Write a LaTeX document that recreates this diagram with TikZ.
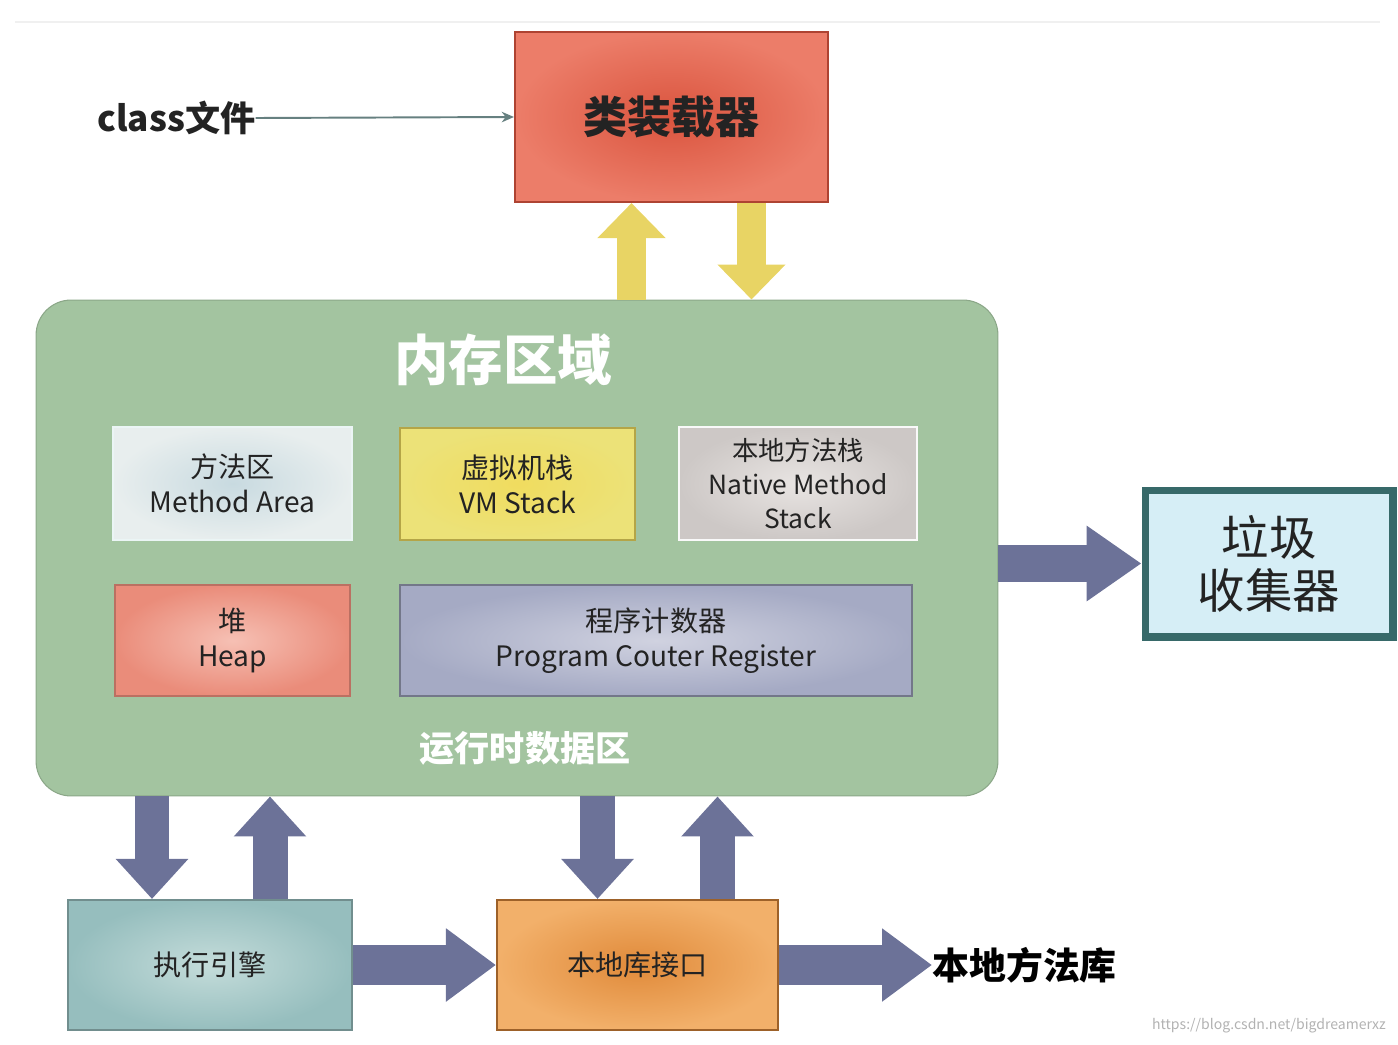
\documentclass[tikz,border=0pt]{standalone}
\usepackage{fontspec}
\setmainfont{Noto Sans CJK SC}
\usetikzlibrary{arrows.meta, positioning, calc}
\definecolor{txtdark}{RGB}{35,35,35}
\definecolor{memgreen}{RGB}{163,196,160}
\definecolor{slate}{RGB}{108,114,152}
\definecolor{yellowarr}{RGB}{232,212,100}
\definecolor{yellowedge}{RGB}{170,150,80}
\definecolor{loadin}{RGB}{218,84,62}
\definecolor{loadout}{RGB}{236,125,105}
\definecolor{methin}{RGB}{200,218,224}
\definecolor{methout}{RGB}{232,238,238}
\definecolor{vmin}{RGB}{240,220,95}
\definecolor{vmout}{RGB}{236,226,120}
\definecolor{natin}{RGB}{232,228,226}
\definecolor{natout}{RGB}{205,200,198}
\definecolor{heapin}{RGB}{246,192,180}
\definecolor{heapout}{RGB}{234,140,122}
\definecolor{pcin}{RGB}{208,210,224}
\definecolor{pcout}{RGB}{165,170,196}
\definecolor{engin}{RGB}{196,220,218}
\definecolor{engout}{RGB}{150,190,190}
\definecolor{ifin}{RGB}{224,138,58}
\definecolor{ifout}{RGB}{242,176,106}
\definecolor{gcfill}{RGB}{214,238,246}
\definecolor{gcedge}{RGB}{55,105,105}
\tikzstyle{abox}=[rectangle, draw, line width=1.2pt, text=txtdark,
  align=center, font=\fontsize{16}{20}\selectfont]
\tikzstyle{barr}=[-{Triangle[length=0.8cm, width=1.4cm]}, line width=0.7cm,
  color=slate]
\tikzstyle{harr}=[-{Triangle[length=1.0cm, width=1.4cm]}, line width=0.8cm,
  color=slate]
\tikzstyle{yarr}=[-{Triangle[length=0.7cm, width=1.32cm]}, line width=0.58cm,
  color=yellowarr]

\begin{document}
\begin{tikzpicture}[x=0.02cm, y=-0.02cm]
  \useasboundingbox (0,0) rectangle (1398,1044);
  \draw[black!6, line width=1pt] (15,22) -- (1380,22);

  % class loader
  \node[font=\fontsize{20}{24}\selectfont\bfseries, anchor=west, inner sep=0pt,
    text=txtdark] (cls) at (97,118) {class文件};
  \node[abox, minimum width=6.26cm, minimum height=3.4cm,
    inner color=loadin, outer color=loadout, draw=loadin!80!black,
    font=\fontsize{25}{30}\selectfont\bfseries]
    (loader) at (671.5,117) {类装载器};
  \draw[-{Stealth[length=7pt, width=6pt]}, line width=1.1pt, color=gray!80!teal]
    (cls.east) -- (loader.west);

  % memory area
  \node[rectangle, rounded corners=0.7cm, fill=memgreen, draw=memgreen!85!black,
    line width=0.6pt, minimum width=19.24cm, minimum height=9.92cm]
    (mem) at (517,548) {};
  \node[font=\fontsize{31}{36}\selectfont\bfseries, text=white]
    (memt) at (503,360) {内存区域};
  \node[font=\fontsize{20}{24}\selectfont\bfseries, text=white]
    (rt) at (525,748) {运行时数据区};

  \node[abox, minimum width=4.78cm, minimum height=2.26cm,
    inner color=methin, outer color=methout, draw=white!92!teal]
    (meth) at (232.5,483.5) {方法区\\Method Area};
  \node[abox, minimum width=4.7cm, minimum height=2.24cm,
    inner color=vmin, outer color=vmout, draw=vmin!75!black]
    (vm) at (517.5,484) {虚拟机栈\\VM Stack};
  \node[abox, minimum width=4.76cm, minimum height=2.26cm,
    inner color=natin, outer color=natout, draw=white!95!gray,
    font=\fontsize{15}{19.5}\selectfont]
    (nat) at (798,483.5) {本地方法栈\\Native Method\\Stack};
  \node[abox, minimum width=4.7cm, minimum height=2.22cm,
    inner color=heapin, outer color=heapout, draw=heapout!80!black]
    (heap) at (232.5,640.5) {堆\\Heap};
  \node[abox, minimum width=10.24cm, minimum height=2.22cm,
    inner color=pcin, outer color=pcout, draw=pcout!70!black]
    (pc) at (656,640.5) {程序计数器\\Program Couter Register};

  % garbage collector
  \node[abox, minimum width=4.96cm, minimum height=2.94cm, fill=gcfill,
    draw=gcedge, line width=4pt, font=\fontsize{27}{30}\selectfont]
    (gc) at (1269,563.5) {垃圾\\收集器};

  % engine and native interface
  \node[abox, minimum width=5.68cm, minimum height=2.6cm,
    inner color=engin, outer color=engout, draw=engout!75!black]
    (eng) at (210,965) {执行引擎};
  \node[abox, minimum width=5.62cm, minimum height=2.6cm,
    inner color=ifin, outer color=ifout, draw=ifin!70!black]
    (iface) at (637.5,965) {本地库接口};
  \node[font=\fontsize{21}{24}\selectfont\bfseries, anchor=west, inner sep=0pt,
    text=black] (lib) at (932,965) {本地方法库};

  % block arrows
  \coordinate (lu) at ($(loader.south)+(-40,0)$);
  \coordinate (ld) at ($(loader.south)+(80,0)$);
  \draw[yarr] (lu |- mem.north) -- (lu);
  \draw[yarr] (ld) -- (ld |- mem.north);

  \draw[-{Triangle[length=1.1cm, width=1.44cm]}, line width=0.74cm, color=slate]
    (mem.east |- gc.west) -- (gc.west);

  \coordinate (e1) at ($(eng.north)+(-58,0)$);
  \coordinate (e2) at ($(eng.north)+(60,0)$);
  \coordinate (i1) at ($(iface.north)+(-40,0)$);
  \coordinate (i2) at ($(iface.north)+(80,0)$);
  \draw[barr] (e1 |- mem.south) -- (e1);
  \draw[barr] (e2) -- (e2 |- mem.south);
  \draw[barr] (i1 |- mem.south) -- (i1);
  \draw[barr] (i2) -- (i2 |- mem.south);

  \draw[harr] (eng.east) -- (iface.west);
  \draw[harr] (iface.east) -- (lib.west);

  \node[anchor=east, text=black!30, font=\fontsize{8}{10}\selectfont]
    (wm) at (1392,1026) {https://blog.csdn.net/bigdreamerxz};
\end{tikzpicture}
\end{document}
